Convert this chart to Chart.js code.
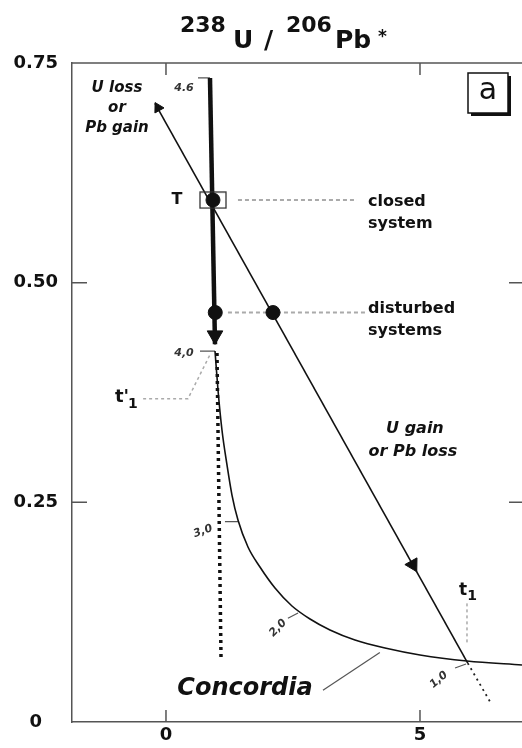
<!DOCTYPE html>
<html>
<head>
<meta charset="utf-8">
<script src="https://cdn.jsdelivr.net/npm/chart.js@4"></script>
<style>
    html, body { margin: 0; padding: 0; background: #fff; overflow: hidden; }
</style>
</head>
<body>
<canvas id="concordiaChart" width="522" height="748"></canvas>
<script>
// axis ticks
const xTicks = [0, 5];
const yTicks = [0, 0.25, 0.5, 0.75];
const yTickLabels = ["0", "0.25", "0.50", "0.75"];

// concordia curve (thin) below 4.0 Ga
const concordiaX = [0.965, 1.024, 1.102, 1.201, 1.299, 1.417, 1.614, 1.850, 2.146, 2.480, 2.835, 3.228, 3.720, 4.311, 5.000, 5.925, 7.008];
const concordiaY = [0.4222, 0.3778, 0.3323, 0.2925, 0.2583, 0.2299, 0.1992, 0.1764, 0.1525, 0.1320, 0.1172, 0.1047, 0.0933, 0.0842, 0.0763, 0.0694, 0.0649];

// thick segment 4.6 -> 4.0
const earlyX = [0.866, 0.965];
const earlyY = [0.733, 0.43];

// dotted projection below t'1
const projectionX = [1.004, 1.083];
const projectionY = [0.420, 0.074];

// discordia
const discordiaX = [-0.217, 5.94];
const discordiaY = [0.704, 0.067];
const discordiaTailX = [5.94, 6.38];
const discordiaTailY = [0.067, 0.023];

// samples
const closedX = [0.925];
const closedY = [0.594];
const disturbedX = [0.97, 2.106];
const disturbedY = [0.466, 0.466];

// arrow heads
const arrowX = [0.965, 4.86, -0.157];
const arrowY = [0.440, 0.179, 0.699];
const arrowAngle = [180, 151, 331];

// gray leader lines
const closedLeadX = [1.417, 3.76];
const closedLeadY = [0.594, 0.594];
const disturbedLeadX = [1.22, 3.96];
const disturbedLeadY = [0.466, 0.466];
const tPrimeLeadX = [-0.45, 0.433, 0.866];
const tPrimeLeadY = [0.368, 0.368, 0.418];
const tLeadX = [5.925, 5.925];
const tLeadY = [0.135, 0.090];
const concordiaLeadX = [3.09, 4.21];
const concordiaLeadY = [0.036, 0.079];

// age ticks on the concordia (Ga)
const ageLabels = ["4.6", "4,0", "3,0", "2,0", "1,0"];
const ageTickX = [[0.63, 0.866], [0.669, 0.965], [1.161, 1.417], [2.40, 2.60], [5.69, 5.906]];
const ageTickY = [[0.733, 0.733], [0.422, 0.422], [0.228, 0.228], [0.118, 0.124], [0.0615, 0.066]];
const ageLabelX = [0.354, 0.354, 0.728, 2.205, 5.37];
const ageLabelY = [0.7215, 0.420, 0.217, 0.107, 0.048];

const pts = (xs, ys) => xs.map((x, i) => ({ x: x, y: ys[i] }));

const ageTickData = [];
ageTickX.forEach((xs, i) => {
    ageTickData.push(...pts(xs, ageTickY[i]));
    ageTickData.push({ x: xs[1], y: null });
});

// box around T
const boxImg = document.createElement("canvas");
boxImg.width = 28;
boxImg.height = 18;
const bctx = boxImg.getContext("2d");
bctx.strokeStyle = "#333";
bctx.lineWidth = 1.3;
bctx.strokeRect(1, 1, 26, 16);

const lineSet = (data, width, color, dash) => ({
    data: data,
    showLine: true,
    borderColor: color,
    borderWidth: width,
    borderDash: dash || [],
    pointRadius: 0,
    fill: false,
});

const sans = "'DejaVu Sans', 'Liberation Sans', sans-serif";

const notes = [
    { t: "U loss", x: -0.965, y: 0.7215, f: "italic bold 15px", a: "center", b: "middle" },
    { t: "or", x: -0.965, y: 0.699, f: "italic bold 15px", a: "center", b: "middle" },
    { t: "Pb gain", x: -0.965, y: 0.676, f: "italic bold 15px", a: "center", b: "middle" },
    { t: "T", x: 0.217, y: 0.594, f: "bold 16px", a: "center", b: "middle" },
    { t: "closed", x: 3.976, y: 0.587, f: "bold 16px", a: "left", b: "alphabetic" },
    { t: "system", x: 3.976, y: 0.562, f: "bold 16px", a: "left", b: "alphabetic" },
    { t: "disturbed", x: 3.976, y: 0.4654, f: "bold 16px", a: "left", b: "alphabetic" },
    { t: "systems", x: 3.976, y: 0.4404, f: "bold 16px", a: "left", b: "alphabetic" },
    { t: "U gain", x: 4.90, y: 0.3334, f: "italic bold 16px", a: "center", b: "middle" },
    { t: "or Pb loss", x: 4.86, y: 0.307, f: "italic bold 16px", a: "center", b: "middle" },
    { t: "Concordia", x: 1.555, y: 0.0376, f: "italic bold 24px", a: "center", b: "middle" },
];
const ageRotation = [0, 0, -20, -45, -40];

const annotations = {
    id: "annotations",
    afterDatasetsDraw(chart) {
        const ctx = chart.ctx;
        const xs = chart.scales.x, ys = chart.scales.y;
        const area = chart.chartArea;
        ctx.save();

        // frame top + inner ticks
        ctx.strokeStyle = "#555";
        ctx.lineWidth = 1.5;
        ctx.beginPath();
        ctx.moveTo(area.left, area.top);
        ctx.lineTo(area.right, area.top);
        xTicks.forEach(v => {
            const px = xs.getPixelForValue(v);
            ctx.moveTo(px, area.top);
            ctx.lineTo(px, area.top + 12);
            ctx.moveTo(px, area.bottom);
            ctx.lineTo(px, area.bottom - 12);
        });
        [0.25, 0.5].forEach(v => {
            const py = ys.getPixelForValue(v);
            ctx.moveTo(area.left, py);
            ctx.lineTo(area.left + 15, py);
            ctx.moveTo(area.right, py);
            ctx.lineTo(area.right - 13, py);
        });
        ctx.stroke();

        // text notes
        ctx.fillStyle = "#111";
        notes.forEach(n => {
            ctx.font = n.f + " " + sans;
            ctx.textAlign = n.a;
            ctx.textBaseline = n.b;
            ctx.fillText(n.t, xs.getPixelForValue(n.x), ys.getPixelForValue(n.y));
        });

        // age labels
        ctx.fillStyle = "#333";
        ctx.font = "italic bold 11px " + sans;
        ctx.textAlign = "center";
        ctx.textBaseline = "middle";
        ageLabels.forEach((t, i) => {
            ctx.save();
            ctx.translate(xs.getPixelForValue(ageLabelX[i]), ys.getPixelForValue(ageLabelY[i]));
            ctx.rotate(ageRotation[i] * Math.PI / 180);
            ctx.fillText(t, 0, 0);
            ctx.restore();
        });

        // t'1 and t1
        ctx.fillStyle = "#111";
        ctx.textAlign = "left";
        ctx.textBaseline = "alphabetic";
        let px = xs.getPixelForValue(-1.004), py = ys.getPixelForValue(0.364);
        ctx.font = "bold 18px " + sans;
        ctx.fillText("t'", px, py);
        px += ctx.measureText("t'").width - 1;
        ctx.font = "bold 14px " + sans;
        ctx.fillText("1", px, py + 6);
        px = xs.getPixelForValue(5.77);
        py = ys.getPixelForValue(0.1445);
        ctx.font = "bold 17px " + sans;
        ctx.fillText("t", px, py);
        px += ctx.measureText("t").width;
        ctx.font = "bold 14px " + sans;
        ctx.fillText("1", px, py + 5);

        // panel letter
        const bx = area.right - 54, by = area.top + 10;
        ctx.fillStyle = "#111";
        ctx.fillRect(bx + 3, by + 3, 40, 40);
        ctx.fillStyle = "#fff";
        ctx.fillRect(bx, by, 40, 40);
        ctx.strokeStyle = "#111";
        ctx.lineWidth = 1.5;
        ctx.strokeRect(bx, by, 40, 40);
        ctx.fillStyle = "#111";
        ctx.font = "30px " + sans;
        ctx.textAlign = "center";
        ctx.textBaseline = "middle";
        ctx.fillText("a", bx + 20, by + 18);

        // title 238U / 206Pb*
        ctx.textAlign = "left";
        ctx.textBaseline = "alphabetic";
        ctx.fillStyle = "#111";
        const parts = [
            { t: "238", f: 22, dx: -104, base: 32 },
            { t: "U", f: 25, dx: -51, base: 48 },
            { t: "/", f: 25, dx: -20, base: 48 },
            { t: "206", f: 22, dx: 2, base: 32 },
            { t: "Pb", f: 25, dx: 51, base: 48 },
            { t: "*", f: 17, dx: 94, base: 42 },
        ];
        const cx = 284;
        parts.forEach(p => {
            ctx.font = "bold " + p.f + "px " + sans;
            ctx.fillText(p.t, cx + p.dx, p.base);
        });
        ctx.restore();
    },
};

const ctxEl = document.getElementById("concordiaChart");

// Chart.js paints the first dataset on top, so marks come first, leaders last
new Chart(ctxEl, {
    type: "scatter",
    data: {
        datasets: [
            {
                data: pts(closedX, closedY),
                pointStyle: "circle",
                pointRadius: 7,
                backgroundColor: "#111",
                borderColor: "#111",
            },
            {
                data: pts(closedX, closedY),
                pointStyle: boxImg,
                pointRadius: 9,
            },
            {
                data: pts(disturbedX, disturbedY),
                pointStyle: "circle",
                pointRadius: 7,
                backgroundColor: "#111",
                borderColor: "#111",
            },
            {
                data: pts(arrowX, arrowY),
                pointStyle: "triangle",
                rotation: arrowAngle,
                pointRadius: [9, 8, 6],
                backgroundColor: "#111",
                borderColor: "#111",
                borderWidth: 1,
            },
            lineSet(pts(discordiaTailX, discordiaTailY), 1.8, "#222", [2, 4]),
            lineSet(pts(discordiaX, discordiaY), 1.6, "#111"),
            lineSet(pts(projectionX, projectionY), 3.5, "#111", [3, 4]),
            lineSet(pts(earlyX, earlyY), 4.5, "#111"),
            Object.assign(lineSet(pts(concordiaX, concordiaY), 1.6, "#111"), {
                tension: 0.4,
                cubicInterpolationMode: "monotone",
            }),
            lineSet(ageTickData, 1.2, "#555"),
            lineSet(pts(concordiaLeadX, concordiaLeadY), 1.2, "#555"),
            lineSet(pts(tLeadX, tLeadY), 1.5, "#aaa", [3, 3]),
            lineSet(pts(tPrimeLeadX, tPrimeLeadY), 1.5, "#aaa", [3, 3]),
            lineSet(pts(disturbedLeadX, disturbedLeadY), 2, "#aaa", [4, 3]),
            lineSet(pts(closedLeadX, closedLeadY), 2, "#aaa", [4, 3]),
        ],
    },
    options: {
        responsive: false,
        animation: false,
        events: [],
        layout: { autoPadding: false, padding: { top: 63, right: 0, left: 0, bottom: 0 } },
        plugins: {
            legend: { display: false },
            tooltip: { enabled: false },
        },
        scales: {
            x: {
                type: "linear",
                min: -1.85,
                max: 7.008,
                afterBuildTicks: s => { s.ticks = xTicks.map(v => ({ value: v })); },
                afterFit: s => { s.height = 26; },
                grid: { display: false, drawTicks: false },
                border: { display: true, color: "#555", width: 1.5 },
                ticks: {
                    padding: 3,
                    color: "#111",
                    font: { family: sans, size: 18, weight: "bold" },
                },
            },
            y: {
                type: "linear",
                min: 0,
                max: 0.75,
                afterBuildTicks: s => { s.ticks = yTicks.map(v => ({ value: v })); },
                afterFit: s => { s.width = 72; },
                grid: { display: false, drawTicks: false },
                border: { display: true, color: "#555", width: 1.5 },
                ticks: {
                    padding: 14,
                    crossAlign: "center",
                    color: "#111",
                    font: { family: sans, size: 18, weight: "bold" },
                    callback: (v, i) => yTickLabels[i],
                },
            },
        },
    },
    plugins: [annotations],
});
</script>
</body>
</html>
